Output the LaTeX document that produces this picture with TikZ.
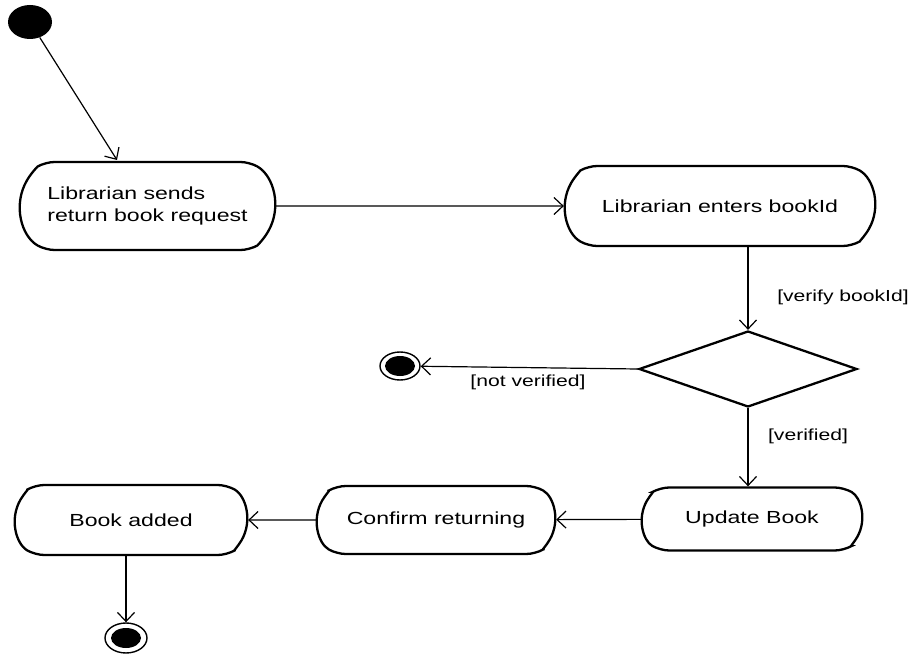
\documentclass[tikz,border=0pt]{standalone}
\usepackage{fontspec}
\setmainfont[FakeStretch=1.32]{Liberation Sans}
\usetikzlibrary{shapes.misc,shapes.geometric,arrows.meta}

\begin{document}
\begin{tikzpicture}[x=1pt,y=-1pt,
  act/.style={rounded rectangle, rounded rectangle arc length=120, draw, line width=2.3pt,
    rounded corners=9pt, font=\fontsize{17.5}{22}\selectfont, inner sep=0pt},
  flow/.style={draw, line width=1.2pt, -{Straight Barb[length=9pt,width=17pt,line width=1.2pt]}},
  guard/.style={font=\fontsize{16}{19}\selectfont, inner sep=0pt},
  initial/.style={ellipse, fill=black, minimum width=44pt, minimum height=34pt, inner sep=0pt},
  final/.style={ellipse, draw, line width=1.4pt, minimum width=40pt, minimum height=28pt, inner sep=0pt,
    path picture={\fill (path picture bounding box.center) ellipse [x radius=15pt, y radius=10pt];}}]
\useasboundingbox (0,0) rectangle (916,655);

% activity nodes
\node[initial] (start) at (30,22) {};
\node[act, minimum width=255pt, minimum height=88pt, align=left] (b1) at (147.5,206) {Librarian sends\\return book request};
\node[act, minimum width=310pt, minimum height=80pt] (b2) at (720,206) {Librarian enters bookId};
\node[diamond, draw, line width=2.3pt, minimum width=218pt, minimum height=76pt, inner sep=0pt] (d) at (748,369) {};
\node[final] (f1) at (400,366) {};
\node[act, minimum width=220pt, minimum height=63pt] (b3) at (752,519) {Update Book};
\node[act, minimum width=238pt, minimum height=68pt] (b4) at (436,520) {Confirm returning};
\node[act, minimum width=232pt, minimum height=70pt] (b5) at (131,520) {Book added};
\node[final, minimum width=42pt, minimum height=30pt] (f2) at (126,638) {};
\coordinate (b1in) at (117,160);

% guard labels
\node[guard] (g1) at (843,297) {[verify bookId]};
\node[guard] (g2) at (528,382) {[not verified]};
\node[guard] (g3) at (808,436) {[verified]};

% transitions
\draw[flow] (start) -- (b1in);
\draw[flow] (b1) -- (b2);
\draw[flow] (b2.south -| d.north) -- (d.north);
\draw[flow] (d.west) -- (f1);
\draw[flow] (d.south) -- (d.south |- b3.north);
\draw[flow] (b3) -- (b4);
\draw[flow] (b4) -- (b5);
\draw[flow] (b5.south -| f2) -- (f2);
\end{tikzpicture}
\end{document}
